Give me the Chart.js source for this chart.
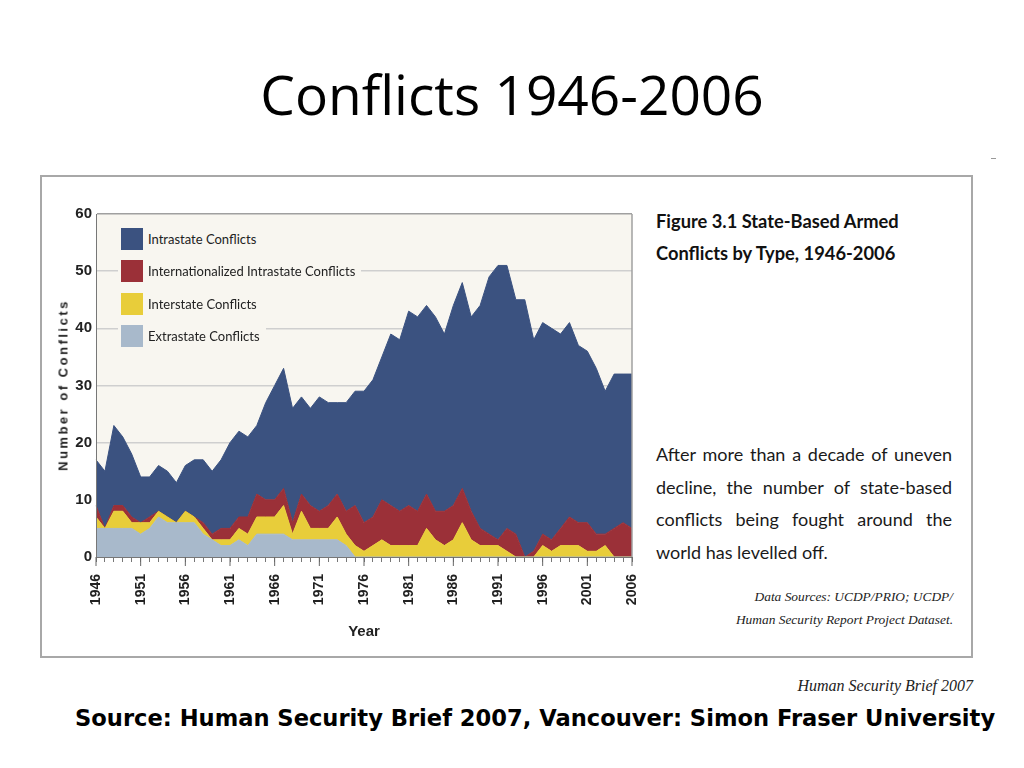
<!DOCTYPE html>
<html>
<head>
<meta charset="utf-8">
<title>Conflicts 1946-2006</title>
<script src="https://cdn.jsdelivr.net/npm/chart.js@4.4.1/dist/chart.umd.min.js"></script>
<style>
  body { margin: 0; width: 1024px; height: 768px; background: #fff; position: relative; overflow: hidden; font-family: 'Liberation Sans', Arial, sans-serif; color: #111; }
  #title { position: absolute; left: 0; top: 56px; width: 1024px; text-align: center; font-family: 'Open Sans', sans-serif; font-size: 55px; color: #000; }
  #dash { position: absolute; left: 991px; top: 158px; width: 5px; height: 1px; background: #999; }
  #frame { position: absolute; left: 40px; top: 175px; width: 933px; height: 483px; box-sizing: border-box; border: 2px solid #a8a8a8; }
  #chartBox { position: absolute; left: 40px; top: 190px; width: 600px; height: 460px; }
  #yTitle { position: absolute; left: 63px; top: 385px; transform: translate(-50%, -50%) rotate(-90deg); white-space: nowrap; font-weight: bold; font-size: 13px; letter-spacing: 2.5px; color: #222; }
  .legItem { position: absolute; left: 118px; height: 22px; padding: 5px 6px 5px 3px; background: #f8f6f0; display: flex; align-items: center; font-family: Lato, sans-serif; font-size: 13px; color: #222; white-space: nowrap; }
  .legItem span.sw { width: 22px; height: 22px; margin-right: 5px; }
  #figTitle { position: absolute; left: 656px; top: 205px; font-family: Lato, sans-serif; font-weight: bold; font-size: 18.3px; line-height: 32px; color: #111; white-space: nowrap; }
  #para { position: absolute; left: 656px; top: 438px; width: 296px; font-family: Lato, sans-serif; font-size: 18px; line-height: 32.5px; color: #1a1a1a; }
  #para div { text-align: justify; text-align-last: justify; white-space: nowrap; }
  #para div.last { text-align-last: left; }
  #sources { position: absolute; right: 71px; top: 585px; text-align: right; font-family: 'Liberation Serif', serif; font-style: italic; font-size: 13.4px; line-height: 23px; color: #222; white-space: nowrap; }
  #brief { position: absolute; right: 51px; top: 677px; font-family: 'Liberation Serif', serif; font-style: italic; font-size: 16px; color: #222; }
  #source { position: absolute; left: 75px; top: 705px; font-family: 'DejaVu Sans', sans-serif; font-weight: bold; font-size: 22.6px; color: #000; white-space: nowrap; }
</style>
</head>
<body>
<div id="title">Conflicts 1946-2006</div>
<div id="dash"></div>
<div id="frame"></div>
<div id="chartBox"><canvas id="conflictChart" width="600" height="460"></canvas></div>
<div id="yTitle">Number of Conflicts</div>
<div id="legend"></div>
<div id="figTitle">Figure 3.1 State-Based Armed<br>Conflicts by Type, 1946-2006</div>
<div id="para">
  <div>After more than a decade of uneven</div>
  <div>decline, the number of state-based</div>
  <div>conflicts being fought around the</div>
  <div class="last">world has levelled off.</div>
</div>
<div id="sources">Data Sources: UCDP/PRIO; UCDP/<br>Human Security Report Project Dataset.</div>
<div id="brief">Human Security Brief 2007</div>
<div id="source">Source: Human Security Brief 2007, Vancouver: Simon Fraser University</div>

<script>
// years 1946-2006
const years = [
    1946, 1947, 1948, 1949, 1950, 1951, 1952, 1953, 1954, 1955,
    1956, 1957, 1958, 1959, 1960, 1961, 1962, 1963, 1964, 1965,
    1966, 1967, 1968, 1969, 1970, 1971, 1972, 1973, 1974, 1975,
    1976, 1977, 1978, 1979, 1980, 1981, 1982, 1983, 1984, 1985,
    1986, 1987, 1988, 1989, 1990, 1991, 1992, 1993, 1994, 1995,
    1996, 1997, 1998, 1999, 2000, 2001, 2002, 2003, 2004, 2005, 2006
];

// number of conflicts per type
const extrastate = [
    5, 5, 5, 5, 5, 4, 5, 7, 6, 6,
    6, 6, 4, 3, 2, 2, 3, 2, 4, 4,
    4, 4, 3, 3, 3, 3, 3, 3, 2, 0,
    0, 0, 0, 0, 0, 0, 0, 0, 0, 0,
    0, 0, 0, 0, 0, 0, 0, 0, 0, 0,
    0, 0, 0, 0, 0, 0, 0, 0, 0, 0, 0
];
const interstate = [
    2, 0, 3, 3, 1, 2, 1, 1, 1, 0,
    2, 1, 1, 0, 1, 1, 2, 2, 3, 3,
    3, 5, 1, 5, 2, 2, 2, 4, 2, 2,
    1, 2, 3, 2, 2, 2, 2, 5, 3, 2,
    3, 6, 3, 2, 2, 2, 1, 0, 0, 0,
    2, 1, 2, 2, 2, 1, 1, 2, 0, 0, 0
];
const internationalized = [
    2, 0, 1, 1, 1, 0, 1, 0, 0, 0,
    0, 0, 1, 1, 2, 2, 2, 3, 4, 3,
    3, 3, 2, 3, 4, 3, 4, 4, 4, 7,
    5, 5, 7, 7, 6, 7, 6, 6, 5, 6,
    6, 6, 5, 3, 2, 1, 4, 4, 0, 1,
    2, 2, 3, 5, 4, 5, 3, 2, 5, 6, 5
];
const intrastate = [
    8, 10, 14, 12, 11, 8, 7, 8, 8, 7,
    8, 10, 11, 11, 12, 15, 15, 14, 12, 17,
    20, 21, 20, 17, 17, 20, 18, 16, 19, 20,
    23, 24, 25, 30, 30, 34, 34, 33, 34, 31,
    35, 36, 34, 39, 45, 48, 46, 41, 45, 37,
    37, 37, 34, 34, 31, 30, 29, 25, 27, 26, 27
];

const seriesNames = ['Intrastate Conflicts', 'Internationalized Intrastate Conflicts', 'Interstate Conflicts', 'Extrastate Conflicts'];
const seriesColors = ['#3b5280', '#9b3038', '#e8cd3a', '#a8b9cb'];
const plotBg = '#f8f6f0';

// legend (top to bottom like the figure)
const legend = document.getElementById('legend');
seriesNames.forEach((name, i) => {
    const item = document.createElement('div');
    item.className = 'legItem';
    item.style.top = (223 + i * 32.4) + 'px';
    item.innerHTML = '<span class="sw" style="background:' + seriesColors[i] + '"></span>' + name;
    legend.appendChild(item);
});

const framePlugin = {
    id: 'framePlugin',
    beforeDraw(chart) {
        const { ctx, chartArea: a } = chart;
        ctx.save();
        ctx.fillStyle = plotBg;
        ctx.fillRect(a.left, a.top, a.right - a.left, a.bottom - a.top);
        ctx.restore();
    },
    afterDraw(chart) {
        const { ctx, chartArea: a } = chart;
        const x = chart.scales.x;
        ctx.save();
        ctx.strokeStyle = '#a0a0a0';
        ctx.lineWidth = 1.5;
        ctx.beginPath();
        ctx.moveTo(a.right, a.top);
        ctx.lineTo(a.right, a.bottom);
        ctx.stroke();
        // longer ticks at labelled years
        ctx.strokeStyle = '#666';
        ctx.lineWidth = 1;
        years.forEach((yr, i) => {
            if (i % 5 === 0) {
                const px = x.getPixelForValue(i);
                ctx.beginPath();
                ctx.moveTo(px, a.bottom);
                ctx.lineTo(px, a.bottom + 9);
                ctx.stroke();
            }
        });
        ctx.restore();
    }
};

function areaSet(label, data, color, fill) {
    return {
        label: label,
        data: data,
        backgroundColor: color,
        borderColor: color,
        borderWidth: 1,
        pointRadius: 0,
        tension: 0,
        fill: fill
    };
}

const ctx = document.getElementById('conflictChart').getContext('2d');
new Chart(ctx, {
    type: 'line',
    data: {
        labels: years,
        datasets: [
            areaSet(seriesNames[3], extrastate, seriesColors[3], 'origin'),
            areaSet(seriesNames[2], interstate, seriesColors[2], '-1'),
            areaSet(seriesNames[1], internationalized, seriesColors[1], '-1'),
            areaSet(seriesNames[0], intrastate, seriesColors[0], '-1')
        ]
    },
    options: {
        responsive: false,
        animation: false,
        layout: { padding: { top: 24, right: 8, left: 0, bottom: 0 } },
        plugins: {
            legend: { display: false },
            tooltip: { enabled: false }
        },
        scales: {
            x: {
                offset: false,
                afterFit: (scale) => {
                    scale.height = 93;
                    scale.paddingLeft = 0;
                    scale.paddingRight = 0;
                },
                grid: { drawOnChartArea: false, drawTicks: true, tickLength: 5, color: '#777' },
                border: { display: true, color: '#777', width: 1, z: 1 },
                ticks: {
                    autoSkip: false,
                    maxRotation: 90,
                    minRotation: 90,
                    padding: 12,
                    color: '#222',
                    font: { family: 'Liberation Sans', size: 14, weight: 'bold' },
                    callback: function(value, index) {
                        return index % 5 === 0 ? years[index] : '';
                    }
                },
                title: {
                    display: true,
                    text: 'Year',
                    color: '#222',
                    font: { family: 'Liberation Sans', size: 15, weight: 'bold' },
                    padding: { top: 0, bottom: 9 }
                }
            },
            y: {
                stacked: true,
                min: 0,
                max: 60,
                afterFit: (scale) => { scale.width = 56; },
                grid: {
                    drawTicks: false,
                    lineWidth: 1.5,
                    color: (c) => c.tick && c.tick.value === 60 ? '#a0a0a0' : '#cfcfcf'
                },
                border: { display: true, color: '#777', width: 1, z: 1 },
                ticks: {
                    stepSize: 10,
                    padding: 4,
                    color: '#222',
                    font: { family: "'Liberation Sans Narrow', 'Liberation Sans', Arial", size: 15, weight: 'bold' }
                }
            }
        }
    },
    plugins: [framePlugin]
});
</script>
</body>
</html>
